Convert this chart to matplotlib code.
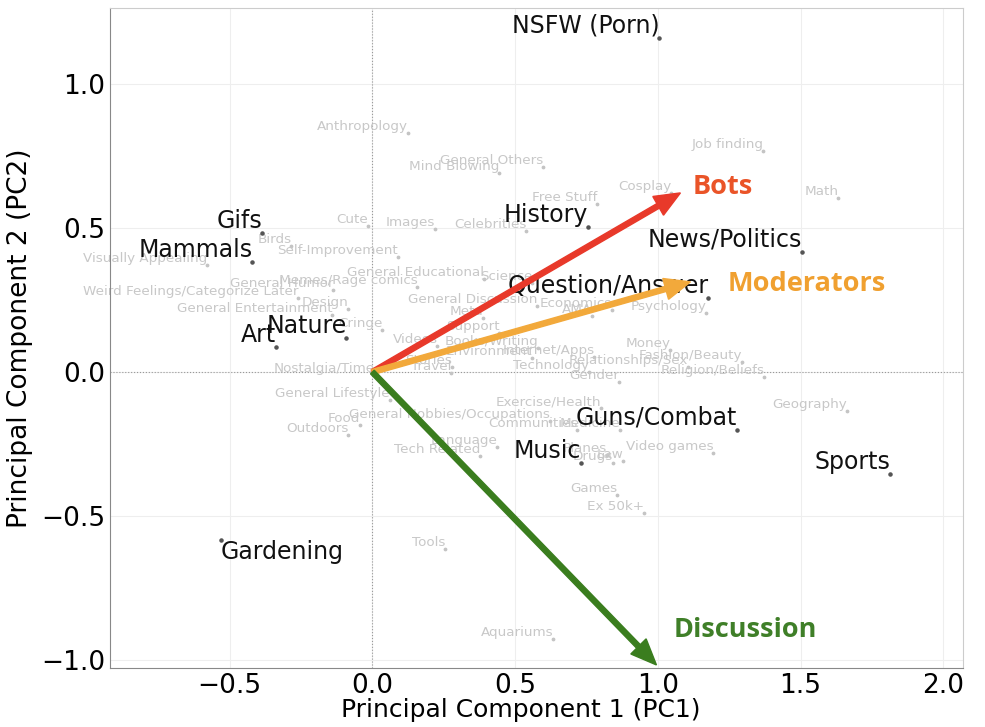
import matplotlib.pyplot as plt
import numpy as np

# main topics (black labels)
main_names = ['NSFW (Porn)', 'Gifs', 'Mammals', 'Art', 'Nature', 'History',
              'News/Politics', 'Question/Answer', 'Guns/Combat', 'Music',
              'Sports', 'Gardening']
main_x = [1.005, -0.385, -0.42, -0.336, -0.091, 0.757, 1.506, 1.177, 1.278, 0.729, 1.814, -0.532]
main_y = [1.16, 0.483, 0.382, 0.087, 0.118, 0.503, 0.417, 0.257, -0.201, -0.316, -0.354, -0.583]

# minor topics (grey labels)
minor_names = ['Anthropology', 'Job finding', 'Math', 'Cosplay', 'General Others',
               'Mind Blowing', 'Free Stuff', 'Images', 'Celebrities', 'Cute', 'Birds',
               'Self-Improvement', 'Visually Appealing', 'General Educational', 'Science',
               'Memes/Rage comics', 'General Humor', 'Weird Feelings/Categorize Later',
               'Design', 'General Entertainment', 'Cringe', 'General Discussion', 'Meta',
               'Economics', 'AMA', 'Psychology', 'Support', 'Videos', 'Books/Writing',
               'Environment', 'Internet/Apps', 'Stories', 'Travel', 'Nostalgia/Time',
               'Technology', 'Relationships/Sex', 'Gender', 'Money', 'Fashion/Beauty',
               'Religion/Beliefs', 'General Lifestyle', 'Geography', 'Exercise/Health',
               'General Hobbies/Occupations', 'Food', 'Outdoors', 'Communities',
               'Medicine', 'Language', 'Tech Related', 'Video games', 'Planes', 'Drugs',
               'Law', 'Games', 'Ex 50k+', 'Tools', 'Aquariums']
minor_x = [0.123, 1.37, 1.632, 1.047, 0.599, 0.445, 0.788, 0.221, 0.539, -0.014, -0.284,
           0.088, -0.578, 0.392, 0.56, 0.158, -0.137, -0.259, -0.084, -0.14, 0.035, 0.578,
           0.389, 0.84, 0.77, 1.17, 0.445, 0.228, 0.58, 0.56, 0.778, 0.28, 0.277, 0.01,
           0.76, 1.107, 0.865, 1.044, 1.296, 1.373, 0.06, 1.664, 0.80, 0.623, -0.042,
           -0.084, 0.718, 0.869, 0.438, 0.378, 1.194, 0.823, 0.844, 0.879, 0.858, 0.953,
           0.256, 0.634]
minor_y = [0.83, 0.767, 0.604, 0.62, 0.712, 0.69, 0.583, 0.497, 0.49, 0.507, 0.438,
           0.4, 0.372, 0.323, 0.31, 0.295, 0.285, 0.257, 0.219, 0.198, 0.146, 0.229,
           0.188, 0.215, 0.194, 0.205, 0.135, 0.09, 0.083, 0.049, 0.052, 0.017, -0.003,
           -0.01, 0.0, 0.017, -0.035, 0.076, 0.035, -0.017, -0.097, -0.135, -0.125,
           -0.17, -0.184, -0.219, -0.2, -0.2, -0.26, -0.292, -0.281, -0.288, -0.316,
           -0.309, -0.427, -0.49, -0.615, -0.927]

# loadings (arrows)
load_names = ['Bots', 'Moderators', 'Discussion']
load_x = [1.079, 1.114, 0.995]
load_y = [0.622, 0.313, -1.017]
load_colors = ['#e8392a', '#f2a93b', '#3a7d1e']
label_colors = ['#ea5428', '#f0a030', '#3f7f28']
label_pos = [(1.121, 0.642), (1.243, 0.306), (1.054, -0.896)]

fig = plt.figure(figsize=(9.85, 7.27), dpi=100)
ax = fig.add_axes([0.112, 0.081, 0.866, 0.908])

# linee degli assi
ax.axhline(0, color='#999999', linestyle=':', linewidth=0.8, zorder=1)
ax.axvline(0, color='#999999', linestyle=':', linewidth=0.8, zorder=1)

ax.scatter(minor_x, minor_y, s=3, color='#c4c4c4', zorder=2)
for n, x, y in zip(minor_names, minor_x, minor_y):
    ax.text(x, y, n, fontsize=9.7, color='#c8c8c8', ha='right', va='bottom', zorder=2)

ax.scatter(main_x, main_y, s=5, color='#555555', zorder=3)
for n, x, y in zip(main_names, main_x, main_y):
    if n == 'Gardening':
        ax.text(x, y, n, fontsize=17, color='#111111', ha='left', va='top', zorder=3)
    else:
        ax.text(x, y, n, fontsize=17, color='#111111', ha='right', va='bottom', zorder=3)

# frecce dei loadings
for n, dx, dy, c, lc, (tx, ty) in zip(load_names, load_x, load_y, load_colors,
                                      label_colors, label_pos):
    ax.arrow(0, 0, dx, dy, width=0.018, head_width=0.075, head_length=0.09,
             length_includes_head=True, color=c, zorder=4)
    ax.text(tx, ty, n, fontsize=19.5, fontweight='bold', color=lc, family='Open Sans',
            ha='left', va='center', zorder=5)

ax.set_xlim(-0.918, 2.07)
ax.set_ylim(-1.028, 1.264)
ax.set_xticks([-0.5, 0.0, 0.5, 1.0, 1.5, 2.0])
ax.set_yticks([-1.0, -0.5, 0.0, 0.5, 1.0])
ax.tick_params(labelsize=19, length=0)
ax.grid(True, color='#eeeeee', linewidth=0.8)
ax.set_axisbelow(True)
for sp in ax.spines.values():
    sp.set_color('#cccccc')
ax.spines['bottom'].set_color('#888888')
ax.spines['left'].set_color('#888888')

ax.set_xlabel('Principal Component 1 (PC1)', fontsize=18)
ax.xaxis.set_label_coords(0.481, -0.045)
ax.set_ylabel('Principal Component 2 (PC2)', fontsize=19, labelpad=6)

fig.savefig('out.png', dpi=100)
